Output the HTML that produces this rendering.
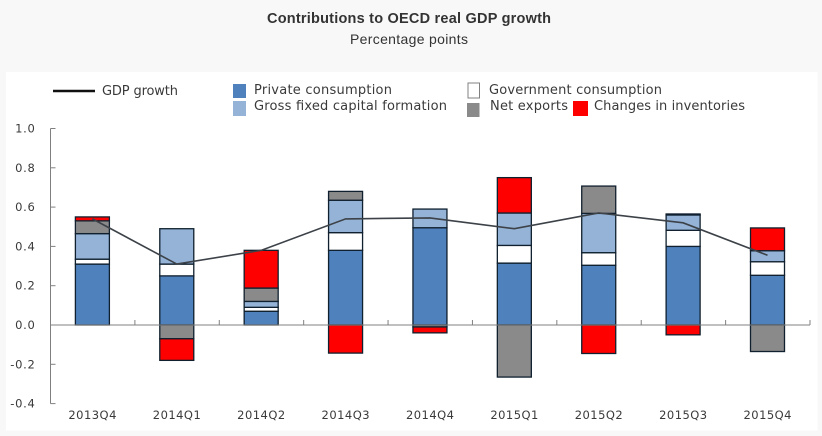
<!DOCTYPE html>
<html>
<head>
<meta charset="utf-8">
<title>Contributions to OECD real GDP growth</title>
<style>
html,body{margin:0;padding:0;background:#f8f8f8;width:822px;height:436px;overflow:hidden}
svg{display:block}
text{font-family:"DejaVu Sans",sans-serif;fill:#3a3a3a}
.head{font-family:"Liberation Sans",sans-serif;fill:#333;font-size:14px;text-anchor:middle}
</style>
</head>
<body>
<svg id="chart" width="822" height="436" viewBox="0 0 822 436" xmlns="http://www.w3.org/2000/svg">
  <rect x="6" y="72" width="811.5" height="358.5" fill="#ffffff"/>
  <text class="head" x="409" y="23" textLength="284" style="font-weight:bold;font-size:14.5px">Contributions to OECD real GDP growth</text>
  <text class="head" x="409" y="44" textLength="118">Percentage points</text>

  <g font-size="13">
    <line x1="53" y1="91" x2="95" y2="91" stroke="#111" stroke-width="2.4"/>
    <text x="102" y="95" textLength="76">GDP growth</text>
    <rect x="233" y="84" width="13" height="14" fill="#4f81bd"/>
    <text x="254" y="94" textLength="138">Private consumption</text>
    <rect x="233" y="101" width="13" height="15" fill="#95b3d7"/>
    <text x="254" y="110" textLength="193">Gross fixed capital formation</text>
    <rect x="468" y="83" width="11.5" height="15" fill="#fff" stroke="#808080" stroke-width="1"/>
    <text x="489" y="94" textLength="173">Government consumption</text>
    <rect x="467" y="103" width="12.5" height="14" fill="#8a8a8a"/>
    <text x="490" y="110" textLength="78">Net exports</text>
    <rect x="573" y="101" width="15" height="15" fill="#ff0000"/>
    <text x="594" y="110" textLength="151">Changes in inventories</text>
  </g>
  <g id="bars"></g>
  <g id="axes"></g>
  <g id="lines"></g>
</svg>
<script>
const categories = ['2013Q4','2014Q1','2014Q2','2014Q3','2014Q4','2015Q1','2015Q2','2015Q3','2015Q4'];
const privateConsumption = [0.31,0.25,0.07,0.38,0.495,0.315,0.304,0.40,0.253];
const governmentConsumption = [0.025,0.06,0.02,0.09,0,0.09,0.064,0.082,0.069];
const grossFixedCapital = [0.13,0.18,0.03,0.165,0.095,0.165,0.2,0.078,0.056];
const netExports = [0.065,-0.07,0.068,0.045,-0.01,-0.265,0.139,0.005,-0.135];
const inventories = [0.02,-0.11,0.192,-0.143,-0.03,0.18,-0.145,-0.05,0.116];
const gdpGrowth = [0.54,0.31,0.38,0.54,0.545,0.49,0.57,0.52,0.355];
const yTicks = [1.0,0.8,0.6,0.4,0.2,0.0,-0.2,-0.4];
const yTickLabels = ['1.0','0.8','0.6','0.4','0.2','0.0','-0.2','-0.4'];

const NS = 'http://www.w3.org/2000/svg';
const plotLeft = 50.5, plotRight = 810, zeroY = 325, unit = 196.5;
const band = (plotRight - plotLeft) / categories.length;
const barWidth = 34;
const xScale = i => plotLeft + band * (i + 0.5) - 0.3;
const yScale = v => zeroY - unit * v;

function make(tag, attrs, parent) {
  const el = document.createElementNS(NS, tag);
  for (const k in attrs) el.setAttribute(k, attrs[k]);
  parent.appendChild(el);
  return el;
}

const barsGroup = document.getElementById('bars');
const axesGroup = document.getElementById('axes');
const lineGroup = document.getElementById('lines');

const seriesList = [
  {key:'private-consumption', values:privateConsumption, fill:'#4f81bd'},
  {key:'government-consumption', values:governmentConsumption, fill:'#ffffff'},
  {key:'gross-fixed-capital-formation', values:grossFixedCapital, fill:'#95b3d7'},
  {key:'net-exports', values:netExports, fill:'#8a8a8a'},
  {key:'changes-in-inventories', values:inventories, fill:'#ff0000'}
];

categories.forEach((cat, i) => {
  let pos = 0, neg = 0;
  seriesList.forEach(s => {
    const v = s.values[i];
    if (!v) return;
    let a, b;
    if (v > 0) { a = pos; b = pos + v; pos = b; }
    else { a = neg; b = neg + v; neg = b; }
    const top = yScale(Math.max(a, b)), bot = yScale(Math.min(a, b));
    const r = make('rect', {x:xScale(i) - barWidth / 2, y:top, width:barWidth, height:bot - top, fill:s.fill, stroke:'#10202e', 'stroke-width':1.3}, barsGroup);
    
    
  });
});

const yAxis = make('line', {x1:plotLeft, y1:yScale(1), x2:plotLeft, y2:yScale(-0.4), stroke:'#808080', 'stroke-width':1}, axesGroup);



const xAxis = make('line', {x1:plotLeft, y1:zeroY, x2:plotRight, y2:zeroY, stroke:'#808080', 'stroke-width':1}, axesGroup);



yTicks.forEach((v, i) => {
  const t = make('line', {x1:plotLeft, y1:yScale(v), x2:plotLeft + 5, y2:yScale(v), stroke:'#808080', 'stroke-width':1}, axesGroup);
  
  
  const l = make('text', {x:35.5, y:yScale(v) + 4, 'text-anchor':'end', 'font-size':11.5, 'letter-spacing':0.7}, axesGroup);
  l.textContent = yTickLabels[i];
  
  
});

categories.forEach((cat, i) => {
  const tx = plotLeft + band * (i + 1);
  const t = make('line', {x1:tx, y1:zeroY, x2:tx, y2:zeroY - 5, stroke:'#808080', 'stroke-width':1}, axesGroup);
  
  
  const l = make('text', {x:xScale(i), y:419, 'text-anchor':'middle', 'font-size':11.5, textLength:48}, axesGroup);
  l.textContent = cat;
  
  
});

const pts = gdpGrowth.map((v, i) => xScale(i) + ',' + yScale(v)).join(' ');
const gdpLine = make('polyline', {points:pts, fill:'none', stroke:'#3c4248', 'stroke-width':1.6}, lineGroup);


</script>
</body>
</html>
